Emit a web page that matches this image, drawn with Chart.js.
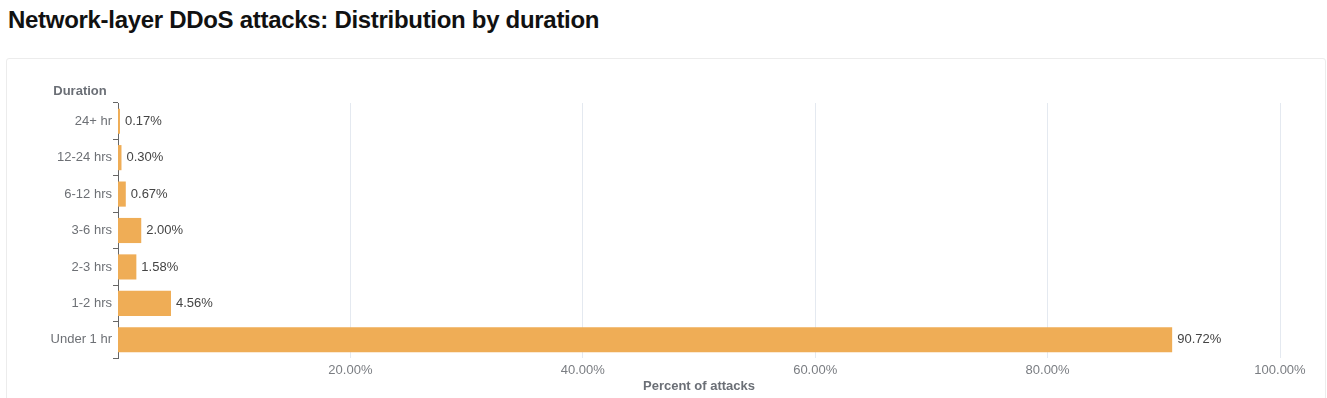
<!DOCTYPE html>
<html>
<head>
<meta charset="utf-8">
<script src="https://cdn.jsdelivr.net/npm/chart.js@4/dist/chart.umd.min.js"></script>
<style>
  html, body { margin: 0; padding: 0; background: #fff; }
  body { width: 1327px; height: 398px; position: relative; overflow: hidden;
         font-family: "Liberation Sans", Arial, sans-serif; }
  h1 { position: absolute; left: 8px; top: 6px; margin: 0; font-size: 24px;
       font-weight: bold; color: #111; letter-spacing: -0.3px; }
  .card { position: absolute; left: 6px; top: 58px; width: 1318px; height: 360px;
          border: 1px solid #ececec; border-radius: 3px; }
  #wrap { position: absolute; left: 0; top: 58px; width: 1327px; height: 340px; }
</style>
</head>
<body>
<h1>Network-layer DDoS attacks: Distribution by duration</h1>
<div class="card"></div>
<div id="wrap"><canvas id="chart"></canvas></div>
<script>
const durations = ["24+ hr", "12-24 hrs", "6-12 hrs", "3-6 hrs", "2-3 hrs", "1-2 hrs", "Under 1 hr"];
const percentOfAttacks = [0.17, 0.30, 0.67, 2.00, 1.58, 4.56, 90.72];
const xTicks = [20, 40, 60, 80, 100];

const FONT = "'Liberation Sans', Arial, sans-serif";

// value labels to the right of each bar, plus the "Duration" axis caption
const barLabels = {
  id: "barLabels",
  afterDatasetsDraw(chart) {
    const ctx = chart.ctx;
    const meta = chart.getDatasetMeta(0);
    ctx.save();
    ctx.font = "13px " + FONT;
    ctx.fillStyle = "#444";
    ctx.textAlign = "left";
    ctx.textBaseline = "middle";
    meta.data.forEach((bar, i) => {
      ctx.fillText(percentOfAttacks[i].toFixed(2) + "%", bar.x + 5, bar.y);
    });
    ctx.font = "bold 13px " + FONT;
    ctx.fillStyle = "#6b6f76";
    ctx.textAlign = "center";
    ctx.fillText("Duration", 80, chart.chartArea.top - 12);
    ctx.restore();
  }
};

new Chart(document.getElementById("chart"), {
  type: "bar",
  data: {
    labels: durations,
    datasets: [{
      data: percentOfAttacks,
      backgroundColor: "#efad56",
      borderWidth: 0,
      categoryPercentage: 1,
      barPercentage: 0.69
    }]
  },
  options: {
    indexAxis: "y",
    responsive: true,
    maintainAspectRatio: false,
    animation: false,
    layout: { padding: { top: 45, right: 47, left: 0, bottom: 0 } },
    plugins: { legend: { display: false }, tooltip: { enabled: false } },
    scales: {
      x: {
        min: 0,
        max: 100,
        afterBuildTicks: (axis) => { axis.ticks = xTicks.map((v) => ({ value: v })); },
        afterFit: (axis) => { axis.height = 40; },
        border: { display: false },
        grid: { color: "#e4e9f0", drawTicks: false, lineWidth: 1 },
        ticks: {
          padding: 5,
          color: "#7a7d82",
          font: { family: FONT, size: 13 },
          callback: (v) => v.toFixed(2) + "%"
        },
        title: {
          display: true,
          text: "Percent of attacks",
          color: "#6b6f76",
          font: { family: FONT, size: 13, weight: "bold" },
          padding: { top: 0, bottom: 4 }
        }
      },
      y: {
        afterFit: (axis) => { axis.width = 118; },
        border: { display: true, color: "#666", width: 1 },
        grid: { drawOnChartArea: false, drawTicks: true, tickLength: 5, color: "#666" },
        ticks: {
          padding: 1,
          color: "#6d7075",
          font: { family: FONT, size: 13 }
        }
      }
    }
  },
  plugins: [barLabels]
});
</script>
</body>
</html>
